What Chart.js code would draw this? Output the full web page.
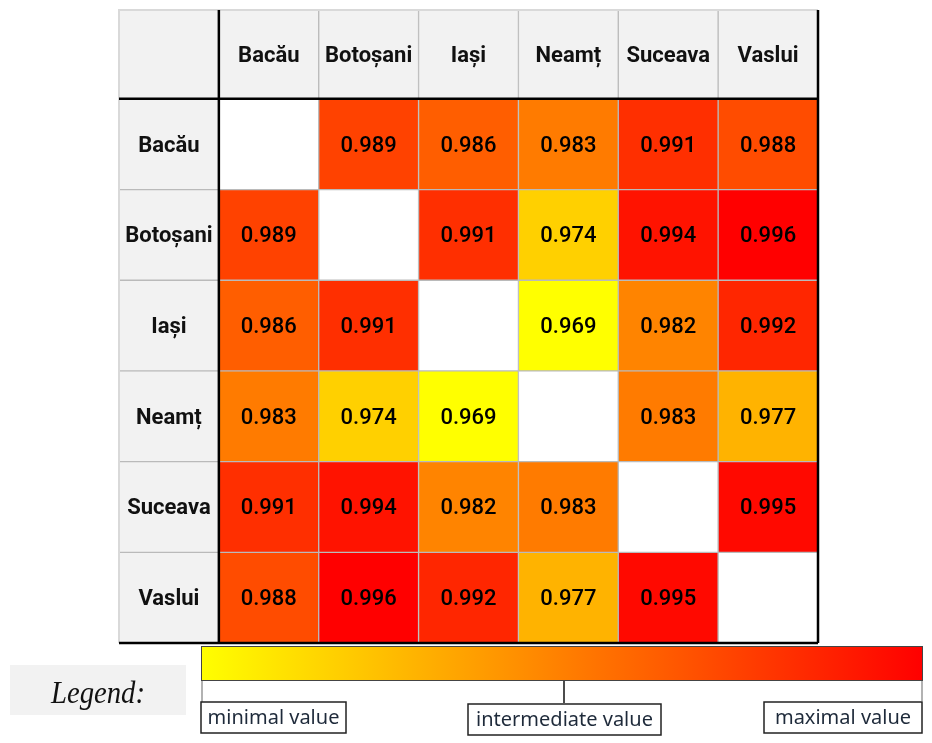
<!DOCTYPE html>
<html>
<head>
<meta charset="utf-8">
<title>Correlation matrix</title>
<script src="https://cdn.jsdelivr.net/npm/chart.js@4.4.1/dist/chart.umd.min.js"></script>
<style>
  html, body { margin: 0; padding: 0; background: #fff; }
  #wrap { position: relative; width: 932px; height: 743px; }
</style>
</head>
<body>
<div id="wrap"><canvas id="heat" width="932" height="743"></canvas></div>
<script>
// ================== DATA ==================
const CITIES = ['Bacău', 'Botoșani', 'Iași', 'Neamț', 'Suceava', 'Vaslui'];

const ROW_BACAU    = [null,  0.989, 0.986, 0.983, 0.991, 0.988];
const ROW_BOTOSANI = [0.989, null,  0.991, 0.974, 0.994, 0.996];
const ROW_IASI     = [0.986, 0.991, null,  0.969, 0.982, 0.992];
const ROW_NEAMT    = [0.983, 0.974, 0.969, null,  0.983, 0.977];
const ROW_SUCEAVA  = [0.991, 0.994, 0.982, 0.983, null,  0.995];
const ROW_VASLUI   = [0.988, 0.996, 0.992, 0.977, 0.995, null ];

const LEGEND_TITLE = 'Legend:';
const LEGEND_LABELS = ['minimal value', 'intermediate value', 'maximal value'];

// ================== HELPERS ==================
const ROWS = [ROW_BACAU, ROW_BOTOSANI, ROW_IASI, ROW_NEAMT, ROW_SUCEAVA, ROW_VASLUI];
const all = ROWS.flat().filter(v => v != null);
const vMin = Math.min(...all), vMax = Math.max(...all);

// yellow -> red, like the Excel colour scale
const colorFor = v => {
  const t = (v - vMin) / (vMax - vMin);
  return `rgb(255,${Math.round(255 * (1 - t))},0)`;
};

const HEADER_BG = '#f2f2f2';
const HEADER_ROW_H = 0.98;            // header row is a touch shorter than data rows
const nCols = CITIES.length + 1;
const cellText = (r, c) => {
  if (r === 0 && c === 0) return '';
  if (r === 0) return CITIES[c - 1];
  if (c === 0) return CITIES[r - 1];
  const v = ROWS[r - 1][c - 1];
  return v == null ? '' : v.toFixed(3);
};
const cellColor = (r, c) => {
  if (r === 0 || c === 0) return HEADER_BG;
  const v = ROWS[r - 1][c - 1];
  return v == null ? '#ffffff' : colorFor(v);
};

// one stacked dataset per table row (row 0 = header)
const datasets = [];
for (let r = 0; r < nCols; r++) {
  datasets.push({
    label: r === 0 ? 'header' : CITIES[r - 1],
    data: Array(nCols).fill(r === 0 ? HEADER_ROW_H : 1),
    backgroundColor: Array.from({ length: nCols }, (_, c) => cellColor(r, c)),
    borderColor: '#bababa',
    borderWidth: 1,
    borderSkipped: false,
    barPercentage: 1,
    categoryPercentage: 1
  });
}

// ================== PLUGINS ==================
const cellLabels = {
  id: 'cellLabels',
  afterDatasetsDraw(chart) {
    const ctx = chart.ctx;
    ctx.save();
    ctx.textAlign = 'center';
    ctx.textBaseline = 'middle';
    chart.data.datasets.forEach((ds, r) => {
      chart.getDatasetMeta(r).data.forEach((el, c) => {
        const txt = cellText(r, c);
        if (!txt) return;
        const header = r === 0 || c === 0;
        ctx.font = header ? 'bold 22px Roboto, "DejaVu Sans", sans-serif'
                          : '500 22px Roboto, "DejaVu Sans", sans-serif';
        ctx.fillStyle = header ? '#111' : '#000';
        ctx.fillText(txt, el.x, (el.y + el.base) / 2 + 2, el.width - 6);
      });
    });
    ctx.restore();
  }
};

const tableFrame = {
  id: 'tableFrame',
  afterDatasetsDraw(chart) {
    const { ctx, chartArea: a } = chart;
    const e = chart.getDatasetMeta(1).data[1];
    const xSplit = e.x - e.width / 2;
    const ySplit = Math.min(e.y, e.base);
    ctx.save();
    // outer light border (top / left)
    ctx.strokeStyle = '#d9d9d9';
    ctx.lineWidth = 2;
    ctx.beginPath();
    ctx.moveTo(a.left, a.bottom); ctx.lineTo(a.left, a.top); ctx.lineTo(a.right, a.top);
    ctx.stroke();
    // header separators + right/bottom border
    ctx.strokeStyle = '#000';
    ctx.lineWidth = 2.5;
    ctx.beginPath();
    ctx.moveTo(xSplit, a.top); ctx.lineTo(xSplit, a.bottom);
    ctx.moveTo(a.left, ySplit); ctx.lineTo(a.right, ySplit);
    ctx.moveTo(a.right, a.top); ctx.lineTo(a.right, a.bottom);
    ctx.moveTo(a.left, a.bottom); ctx.lineTo(a.right, a.bottom);
    ctx.stroke();
    ctx.restore();
  }
};

const colourLegend = {
  id: 'colourLegend',
  afterDraw(chart) {
    const ctx = chart.ctx;
    const bar = { x: 201, y: 646, w: 722, h: 35 };
    ctx.save();

    // "Legend:" box
    ctx.fillStyle = '#f2f2f2';
    ctx.fillRect(10, 665, 176, 50);
    ctx.fillStyle = '#111';
    ctx.font = 'italic 31px "Liberation Serif", "DejaVu Serif", serif';
    ctx.textAlign = 'center';
    ctx.textBaseline = 'alphabetic';
    ctx.fillText(LEGEND_TITLE, 98, 703, 94);

    // gradient bar
    const g = ctx.createLinearGradient(bar.x, 0, bar.x + bar.w, 0);
    g.addColorStop(0, colorFor(vMin));
    g.addColorStop(1, colorFor(vMax));
    ctx.fillStyle = g;
    ctx.fillRect(bar.x, bar.y, bar.w, bar.h);
    ctx.strokeStyle = '#444';
    ctx.lineWidth = 1;
    ctx.strokeRect(bar.x + 0.5, bar.y + 0.5, bar.w - 1, bar.h - 1);

    // ticks
    ctx.strokeStyle = '#999';
    ctx.lineWidth = 1.5;
    ctx.beginPath();
    ctx.moveTo(bar.x + 1, bar.y + bar.h); ctx.lineTo(bar.x + 1, 702);
    ctx.moveTo(bar.x + bar.w - 1, bar.y + bar.h); ctx.lineTo(bar.x + bar.w - 1, 701);
    ctx.stroke();
    ctx.strokeStyle = '#111';
    ctx.beginPath();
    ctx.moveTo(564, bar.y + bar.h); ctx.lineTo(564, 703);
    ctx.stroke();

    // label boxes
    const boxes = [
      { x: 201, y: 702, w: 145, h: 31 },
      { x: 468, y: 704, w: 193, h: 31 },
      { x: 764, y: 702, w: 158, h: 31 }
    ];
    ctx.font = '20px "Liberation Sans Narrow", "Noto Sans", sans-serif';
    ctx.textBaseline = 'middle';
    boxes.forEach((b, i) => {
      ctx.fillStyle = '#fff';
      ctx.fillRect(b.x, b.y, b.w, b.h);
      ctx.strokeStyle = '#222';
      ctx.lineWidth = 1.5;
      ctx.strokeRect(b.x, b.y, b.w, b.h);
      ctx.fillStyle = '#1e2a3a';
      ctx.fillText(LEGEND_LABELS[i], b.x + b.w / 2, b.y + b.h / 2 + 1, b.w - 6);
    });
    ctx.restore();
  }
};

// ================== CHART ==================
new Chart(document.getElementById('heat'), {
  type: 'bar',
  data: { labels: ['', ...CITIES], datasets },
  options: {
    responsive: false,
    animation: false,
    events: [],
    layout: { padding: { left: 119, top: 10, right: 114, bottom: 100 } },
    plugins: { legend: { display: false }, tooltip: { enabled: false } },
    scales: {
      x: { stacked: true, display: false, offset: true, grid: { display: false } },
      y: { stacked: true, display: false, min: 0, max: nCols - 1 + HEADER_ROW_H, reverse: true, grid: { display: false } }
    }
  },
  plugins: [cellLabels, tableFrame, colourLegend]
});
</script>
</body>
</html>
